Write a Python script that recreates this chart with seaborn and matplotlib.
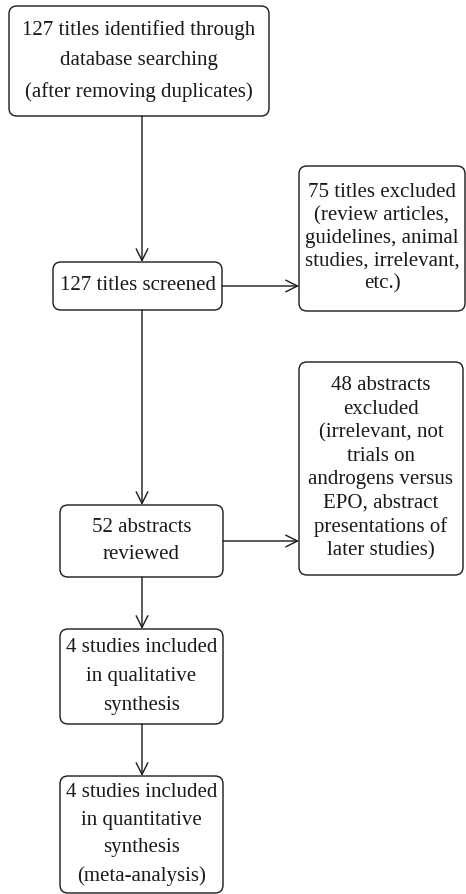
import matplotlib
matplotlib.use("Agg")
import matplotlib.pyplot as plt
import seaborn as sns
from matplotlib.patches import FancyBboxPatch

# box texts of the flow diagram (top to bottom, left column then side boxes)
labels = [
    "127 titles identified through\ndatabase searching\n(after removing duplicates)",
    "127 titles screened",
    "75 titles excluded\n(review articles,\nguidelines, animal\nstudies, irrelevant,\netc.)",
    "52 abstracts\nreviewed",
    "48 abstracts\nexcluded\n(irrelevant, not\ntrials on\nandrogens versus\nEPO, abstract\npresentations of\nlater studies)",
    "4 studies included\nin qualitative\nsynthesis",
    "4 studies included\nin quantitative\nsynthesis\n(meta-analysis)",
]
# which box points to which
links = [(0, 1), (1, 2), (1, 3), (3, 4), (3, 5), (5, 6)]

# layout in pixel units (x0, y0, x1, y1), y grows downward
boxes = [
    (9, 6, 269, 116),
    (53, 262, 222, 310),
    (299, 166, 465, 311),
    (60, 505, 223, 577),
    (299, 362, 463, 575),
    (60, 629, 223, 724),
    (60, 776, 223, 893),
]
spacing = [1.78, 1.2, 1.27, 1.6, 1.31, 1.72, 1.6]
main_x = 142

sns.set_theme(style="white")
plt.rcParams["font.family"] = ["Liberation Serif", "DejaVu Serif"]

fig = plt.figure(figsize=(4.66, 8.94), dpi=100)
ax = fig.add_axes([0, 0, 1, 1])
ax.set_xlim(0, 466)
ax.set_ylim(894, 0)
ax.axis("off")

for (x0, y0, x1, y1), txt, ls in zip(boxes, labels, spacing):
    r = 8
    patch = FancyBboxPatch((x0 + r, y0 + r), (x1 - x0) - 2 * r, (y1 - y0) - 2 * r,
                           boxstyle=f"round,pad={r},rounding_size={r}",
                           fc="white", ec="#1a1a1a", lw=1.0)
    ax.add_patch(patch)
    ax.text((x0 + x1) / 2, (y0 + y1) / 2, txt, ha="center", va="center",
            fontsize=15, linespacing=ls, color="#1a1a1a")

for a, b in links:
    ax0, ay0, ax1, ay1 = boxes[a]
    bx0, by0, bx1, by1 = boxes[b]
    if bx0 > ax1:  # side box, horizontal arrow
        y = (ay0 + ay1) / 2
        start, end = (ax1, y), (bx0, y)
    else:
        start, end = (main_x, ay1), (main_x, by0)
    ax.annotate("", xy=end, xytext=start,
                arrowprops=dict(arrowstyle="->,head_length=0.7,head_width=0.35",
                                color="#1a1a1a", lw=1.0, shrinkA=0, shrinkB=0))

fig.savefig("out.png", dpi=100)
